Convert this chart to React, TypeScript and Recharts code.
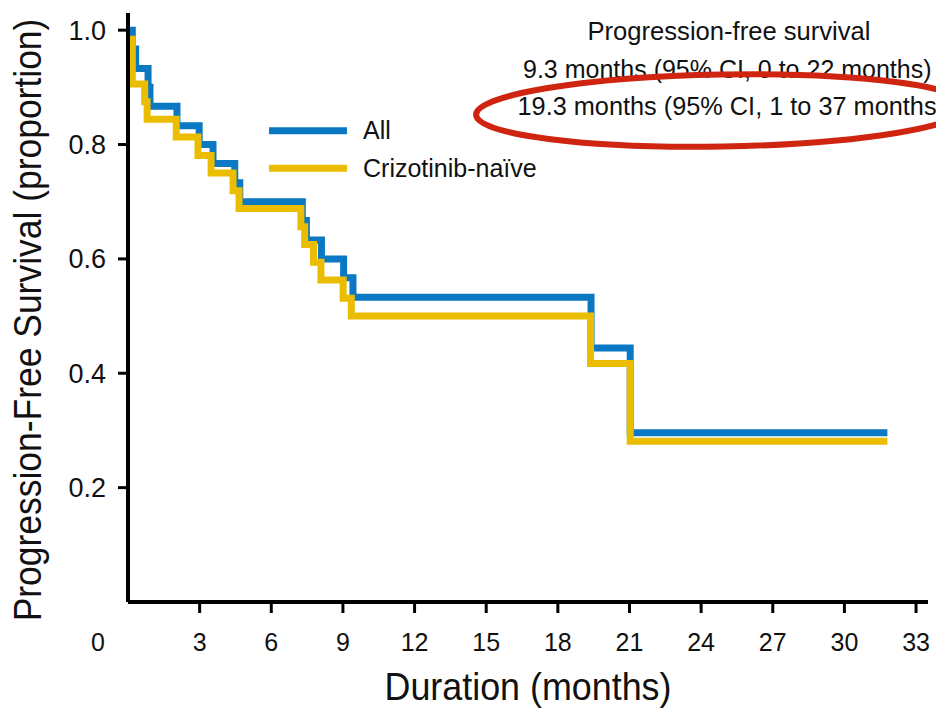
import React from 'react';
import { LineChart, Line, XAxis, YAxis, Legend } from 'recharts';

// ---- data ----
const seriesNames = ['All', 'Crizotinib-naïve'];
const seriesColors = ['#0a78c2', '#ebbd00'];

const allTime = [0, 0.18, 0.32, 0.84, 0.92, 2.05, 2.98, 3.56, 4.47, 4.68, 7.3, 7.47, 8.1, 9.03, 9.42, 19.39, 21.03, 31.8];
const allSurv = [1.0, 0.967, 0.933, 0.9, 0.867, 0.833, 0.8, 0.767, 0.733, 0.7, 0.667, 0.633, 0.6, 0.567, 0.533, 0.444, 0.296, 0.296];

const naiveTime = [0.18, 0.18, 0.7, 0.8, 2.02, 2.93, 3.48, 4.4, 4.65, 7.24, 7.4, 7.77, 8.08, 9.01, 9.35, 19.37, 21.03, 31.8];
const naiveSurv = [0.99, 0.906, 0.875, 0.844, 0.813, 0.781, 0.75, 0.719, 0.688, 0.656, 0.625, 0.594, 0.563, 0.531, 0.5, 0.417, 0.281, 0.281];

const xTicks = [0, 3, 6, 9, 12, 15, 18, 21, 24, 27, 30, 33];
const yTicks = [0.2, 0.4, 0.6, 0.8, 1.0];

const xTitle = 'Duration (months)';
const yTitle = 'Progression-Free Survival (proportion)';
const annotationLines = [
  'Progression-free survival',
  '9.3 months (95% CI, 0 to 22 months)',
  '19.3 months (95% CI, 1 to 37 months',
];

const allData = allTime.map((t, i) => ({ t, v: allSurv[i] }));
const naiveData = naiveTime.map((t, i) => ({ t, v: naiveSurv[i] }));

const FONT = '"Liberation Sans", Arial, Helvetica, sans-serif';
const TEXT = '#111111';

const X_TICK_SIZE = 11;
const X_TICK_MARGIN = 20;

const XTick = (props: any) => {
  const { x, y, payload } = props;
  const v = payload.value;
  return (
    <g>
      {v !== 0 && (
        <line
          x1={x}
          x2={x}
          y1={y - X_TICK_MARGIN - X_TICK_SIZE}
          y2={y - X_TICK_MARGIN}
          stroke="#000"
          strokeWidth={3}
        />
      )}
      <text
        x={v === 0 ? x - 30 : x}
        y={y}
        dy="0.71em"
        textAnchor="middle"
        fontFamily={FONT}
        fontSize={25}
        fill={TEXT}
      >
        {v}
      </text>
    </g>
  );
};

const XTitle = (props: any) => {
  const vb = props.viewBox || { x: 128, y: 602, width: 800, height: 109 };
  const cx = vb.x + vb.width / 2;
  const cy = vb.y + 98;
  return (
    <text
      transform={`translate(${cx}, ${cy}) scale(0.944, 1)`}
      x={0}
      y={0}
      textAnchor="middle"
      fontFamily={FONT}
      fontSize={38}
      fill={TEXT}
    >
      {xTitle}
    </text>
  );
};

const YTitle = () => {
  const cx = 41;
  const cy = 320;
  return (
    <text
      transform={`translate(${cx}, ${cy}) rotate(-90) scale(0.933, 1)`}
      x={0}
      y={0}
      textAnchor="middle"
      fontFamily={FONT}
      fontSize={38}
      fill={TEXT}
    >
      {yTitle}
    </text>
  );
};

const LegendContent = (props: any) => {
  const payload = props.payload && props.payload.length ? props.payload : seriesNames.map((n, i) => ({ value: n, color: seriesColors[i] }));
  return (
    <svg width={300} height={80} style={{ display: 'block', overflow: 'visible' }}>
      {payload.map((p: any, i: number) => (
        <g key={i}>
          <line x1={9} x2={87} y1={25.7 + i * 37.6} y2={25.7 + i * 37.6} stroke={p.color} strokeWidth={7} />
          <text x={103} y={33.5 + i * 38.2} fontFamily={FONT} fontSize={25} fill={TEXT}>
            {p.value}
          </text>
        </g>
      ))}
    </svg>
  );
};

export default function App() {
  return (
    <div style={{ position: 'absolute', left: 0, top: 0, width: 936, height: 711, overflow: 'hidden', background: '#fff' }}>
      <LineChart width={936} height={711} margin={{ top: 13, right: 8, bottom: 0, left: 0 }}>
        <XAxis
          type="number"
          dataKey="t"
          domain={[0, 33.5]}
          ticks={xTicks}
          interval={0}
          allowDataOverflow
          height={109}
          tickSize={X_TICK_SIZE}
          tickMargin={X_TICK_MARGIN}
          tickLine={false}
          tick={<XTick />}
          axisLine={{ stroke: '#000', strokeWidth: 4 }}
          label={<XTitle />}
        />
        <YAxis
          type="number"
          domain={[0, 1.03]}
          ticks={yTicks}
          interval={0}
          allowDataOverflow
          width={128}
          tickSize={10}
          tickMargin={12}
          tickLine={{ stroke: '#000', strokeWidth: 3 }}
          axisLine={{ stroke: '#000', strokeWidth: 4 }}
          tickFormatter={(v: number) => v.toFixed(1)}
          tick={{ fontSize: 27, fill: TEXT, fontFamily: FONT }}
          label={<YTitle />}
        />
        <Legend
          layout="horizontal"
          verticalAlign="middle"
          align="center"
          content={<LegendContent />}
          wrapperStyle={{ left: 260, top: 105, width: 300, height: 80 }}
        />
        <Line
          data={allData}
          dataKey="v"
          name={seriesNames[0]}
          type="stepAfter"
          stroke={seriesColors[0]}
          strokeWidth={7}
          strokeLinejoin="miter"
          strokeLinecap="butt"
          dot={false}
          activeDot={false}
          isAnimationActive={false}
        />
        <Line
          data={naiveData}
          dataKey="v"
          name={seriesNames[1]}
          type="stepAfter"
          stroke={seriesColors[1]}
          strokeWidth={7}
          strokeLinejoin="miter"
          strokeLinecap="butt"
          dot={false}
          activeDot={false}
          isAnimationActive={false}
        />
      </LineChart>
      <svg
        width={936}
        height={711}
        style={{ position: 'absolute', left: 0, top: 0, pointerEvents: 'none' }}
      >
        <text x={729} y={39.5} textAnchor="middle" fontFamily={FONT} fontSize={25.6} fill={TEXT}>
          {annotationLines[0]}
        </text>
        <text x={523} y={77.7} fontFamily={FONT} fontSize={25} fill={TEXT}>
          {annotationLines[1]}
        </text>
        <text x={517.5} y={115} fontFamily={FONT} fontSize={25.3} fill={TEXT}>
          {annotationLines[2]}
        </text>
        <ellipse
          cx={722}
          cy={110.5}
          rx={246}
          ry={36}
          transform="rotate(-1, 722, 110.5)"
          fill="none"
          stroke="#cf2410"
          strokeWidth={6}
        />
      </svg>
    </div>
  );
}
